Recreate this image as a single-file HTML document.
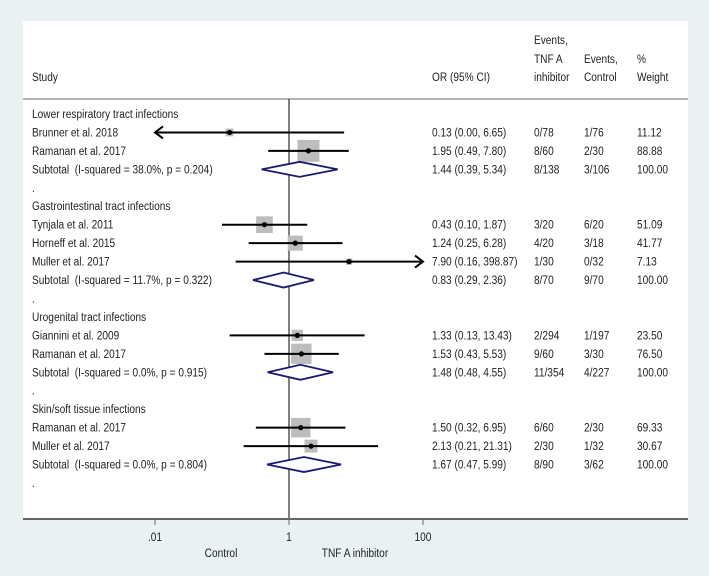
<!DOCTYPE html>
<html><head><meta charset="utf-8"><style>
html,body{margin:0;padding:0;background:#e9f1f3;}
svg{display:block;font-family:"Liberation Sans",Arial,sans-serif;}
</style></head><body>
<svg id="c" width="709" height="576" viewBox="0 0 709 576">
<rect x="0" y="0" width="709" height="576" fill="#e9f1f3"/>
<rect x="23" y="21" width="665" height="498" fill="#ffffff"/>
<g id="hdr"></g>
<line x1="23" y1="99" x2="688" y2="99" stroke="#888" stroke-width="1.2"/>
<line x1="289" y1="99" x2="289" y2="519" stroke="#000" stroke-width="1"/>
<g id="rows"></g>
<line x1="23" y1="519" x2="688" y2="519" stroke="#666" stroke-width="2"/>
<g id="axis"></g>
</svg>
<script>
const rowLabels=["Lower respiratory tract infections","Brunner et al. 2018","Ramanan et al. 2017","Subtotal\u00a0 (I-squared = 38.0%, p = 0.204)",".","Gastrointestinal tract infections","Tynjala et al. 2011","Horneff et al. 2015","Muller et al. 2017","Subtotal\u00a0 (I-squared = 11.7%, p = 0.322)",".","Urogenital tract infections","Giannini et al. 2009","Ramanan et al. 2017","Subtotal\u00a0 (I-squared = 0.0%, p = 0.915)",".","Skin/soft tissue infections","Ramanan et al. 2017","Muller et al. 2017","Subtotal\u00a0 (I-squared = 0.0%, p = 0.804)","."];
const rowType=["g","s","s","t","d","g","s","s","s","t","d","g","s","s","t","d","g","s","s","t","d"];
const orVals=[null,0.13,1.95,1.44,null,null,0.43,1.24,7.90,0.83,null,null,1.33,1.53,1.48,null,null,1.50,2.13,1.67,null];
const loVals=[null,0.00,0.49,0.39,null,null,0.10,0.25,0.16,0.29,null,null,0.13,0.43,0.48,null,null,0.32,0.21,0.47,null];
const hiVals=[null,6.65,7.80,5.34,null,null,1.87,6.28,398.87,2.36,null,null,13.43,5.53,4.55,null,null,6.95,21.31,5.99,null];
const orText=["","0.13 (0.00, 6.65)","1.95 (0.49, 7.80)","1.44 (0.39, 5.34)","","","0.43 (0.10, 1.87)","1.24 (0.25, 6.28)","7.90 (0.16, 398.87)","0.83 (0.29, 2.36)","","","1.33 (0.13, 13.43)","1.53 (0.43, 5.53)","1.48 (0.48, 4.55)","","","1.50 (0.32, 6.95)","2.13 (0.21, 21.31)","1.67 (0.47, 5.99)",""];
const evTnf=["","0/78","8/60","8/138","","","3/20","4/20","1/30","8/70","","","2/294","9/60","11/354","","","6/60","2/30","8/90",""];
const evCtl=["","1/76","2/30","3/106","","","6/20","3/18","0/32","9/70","","","1/197","3/30","4/227","","","2/30","1/32","3/62",""];
const weights=[null,11.12,88.88,100,null,null,51.09,41.77,7.13,100,null,null,23.50,76.50,100,null,null,69.33,30.67,100,null];
const tickVals=[0.01,1,100];
const tickLabels=[".01","1","100"];

const NS="http://www.w3.org/2000/svg";
const SX=0.845;
const xMin=0.01,xMax=100;
function xs(v){return 289+67*Math.log10(v);}
function ys(i){return 114+18.45*i;}
function mk(tag,attrs,parent){const e=document.createElementNS(NS,tag);for(const k in attrs)e.setAttribute(k,attrs[k]);parent.appendChild(e);return e;}
function txt(parent,x,y,s,anchor){
  const t=mk("text",{x:(x/SX).toFixed(2),y:y+4,"font-size":"12",fill:"#222","text-anchor":anchor||"start",transform:"scale("+SX+",1)"},parent);
  t.textContent=s;return t;
}
const hdr=document.getElementById("hdr");
let h;
h=txt(hdr,32,77,"Study");


h=txt(hdr,432,77,"OR (95% CI)");


h=txt(hdr,534,40,"Events,");


h=txt(hdr,534,59,"TNF A");


h=txt(hdr,534,77,"inhibitor");


h=txt(hdr,584,59,"Events,");


h=txt(hdr,584,77,"Control");


h=txt(hdr,637,59,"%");


h=txt(hdr,637,77,"Weight");



const rows=document.getElementById("rows");
for(let i=0;i<rowLabels.length;i++){
  const y=ys(i);
  const g=mk("g",{},rows);
  
  
  const l=txt(g,32,y,rowLabels[i]);
  
  
  if(orText[i]){
    const a=txt(g,432,y,orText[i]);
    
    
    const b=txt(g,534,y,evTnf[i]);
    
    
    const c=txt(g,584,y,evCtl[i]);
    
    
    const d=txt(g,637,y,weights[i].toFixed(2));
    
    
  }
  if(rowType[i]==="s"){
    const lo=Math.max(loVals[i],xMin),hi=Math.min(hiVals[i],xMax);
    const x1=xs(lo),x2=xs(hi),xc=xs(orVals[i]);
    const side=22*Math.sqrt(weights[i]/88.88);
    const sq=mk("rect",{x:xc-side/2,y:y-side/2,width:side,height:side,fill:"#bdbdbd"},g);
    
    
    const ci=mk("line",{x1:x1,y1:y,x2:x2,y2:y,stroke:"#000","stroke-width":"2"},g);
    
    
    if(loVals[i]<xMin){
      const ar=mk("polyline",{points:(x1+8)+","+(y-6)+" "+x1+","+y+" "+(x1+8)+","+(y+6),fill:"none",stroke:"#000","stroke-width":"2"},g);
      
      
    }
    if(hiVals[i]>xMax){
      const ar=mk("polyline",{points:(x2-8)+","+(y-6)+" "+x2+","+y+" "+(x2-8)+","+(y+6),fill:"none",stroke:"#000","stroke-width":"2"},g);
      
      
    }
    const dot=mk("circle",{cx:xc,cy:y,r:2.6,fill:"#000"},g);
    
    
  }
  if(rowType[i]==="t"){
    const x1=xs(loVals[i]),x2=xs(hiVals[i]),xc=xs(orVals[i]);
    const dm=mk("polygon",{points:x1+","+y+" "+xc+","+(y-7.5)+" "+x2+","+y+" "+xc+","+(y+7.5),fill:"#fff",stroke:"#1a1a6e","stroke-width":"1.8"},g);
    
    
  }
}
const axis=document.getElementById("axis");
for(let k=0;k<tickVals.length;k++){
  const x=xs(tickVals[k]);
  const tk=mk("line",{x1:x,y1:519,x2:x,y2:525,stroke:"#666","stroke-width":"1"},axis);
  
  
  const tl=txt(axis,x,537,tickLabels[k],"middle");
  
  
}
let al=txt(axis,221,553,"Control","middle");


al=txt(axis,355,553,"TNF A inhibitor","middle");


</script>
</body></html>
